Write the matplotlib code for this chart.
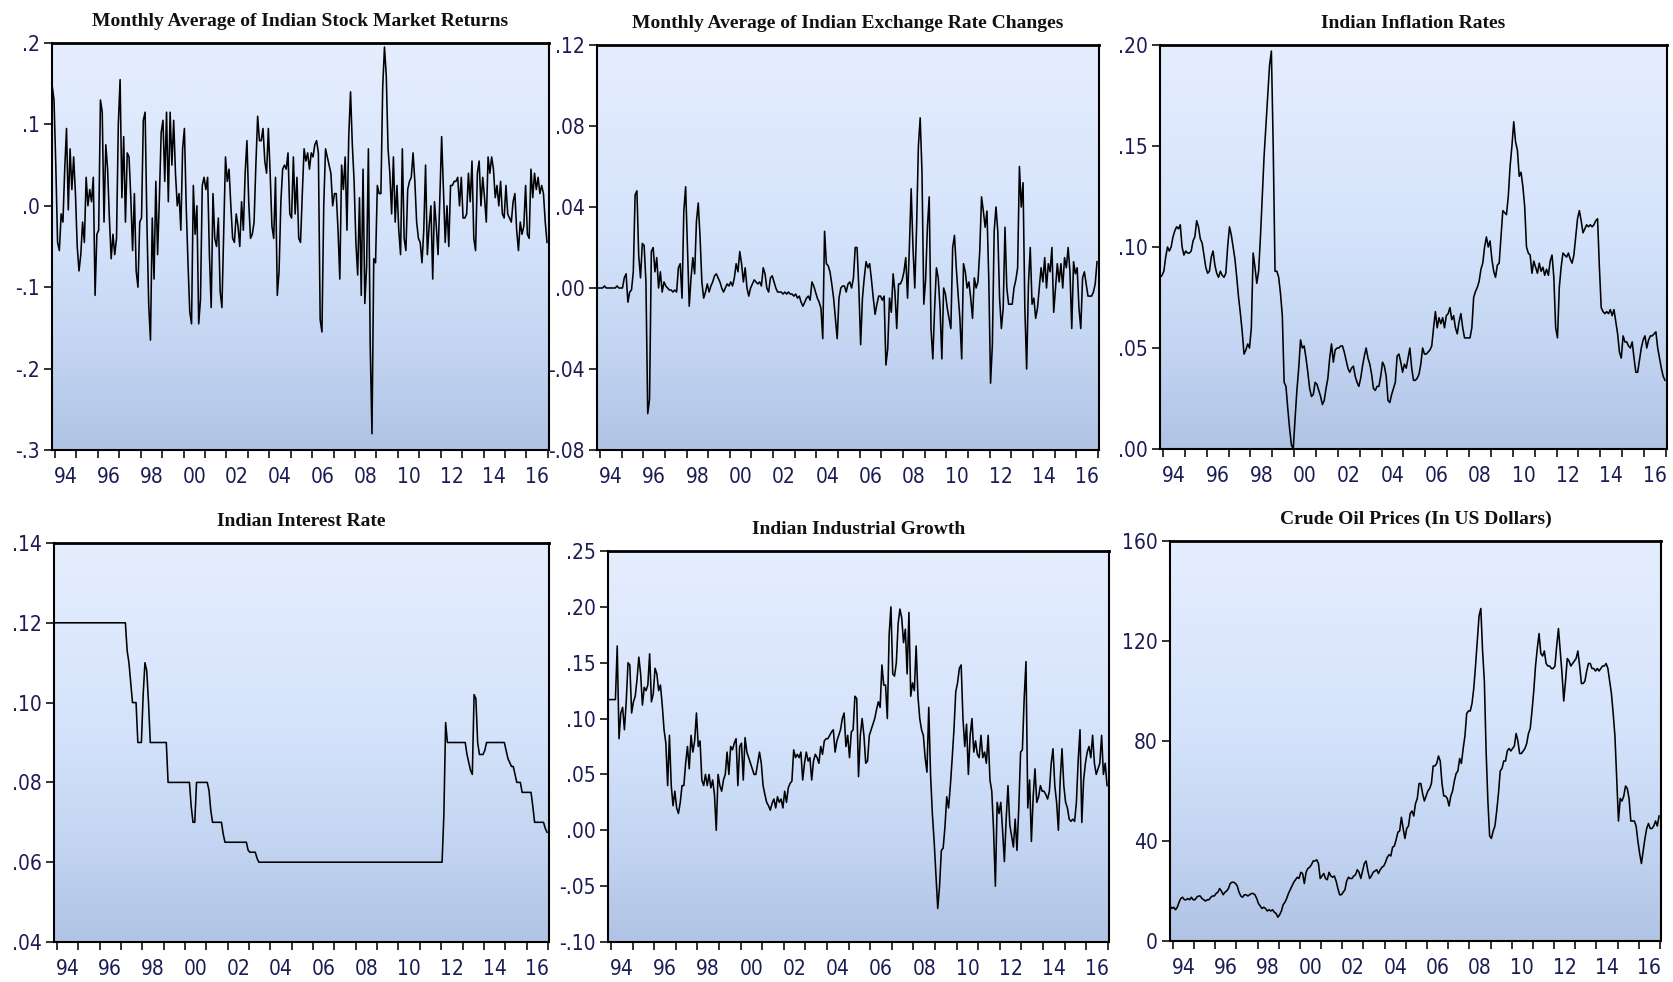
import numpy as np
import matplotlib
matplotlib.use('Agg')
import matplotlib.pyplot as plt
from matplotlib.colors import LinearSegmentedColormap

# ---- data (monthly, Nov 1993 .. Dec 2016) ----
stock_returns = [
    0.147, 0.13,
    0.05, -0.045, -0.055, -0.01, -0.02, 0.045, 0.095, -0.005, 0.07, 0.02, 0.06, 0.015,
    -0.05, -0.08, -0.06, -0.02, -0.045, 0.035, 0.0, 0.02, 0.005, 0.035, -0.11, -0.035,
    -0.03, 0.13, 0.115, -0.02, 0.075, 0.045, -0.015, -0.065, -0.035, -0.06, -0.04, 0.1,
    0.155, 0.01, 0.085, -0.02, 0.065, 0.06, 0.01, -0.055, 0.015, -0.08, -0.1, -0.02,
    -0.015, 0.105, 0.115, -0.02, -0.12, -0.165, -0.015, -0.09, 0.03, -0.06, 0.01, 0.09,
    0.105, 0.03, 0.115, 0.005, 0.115, 0.05, 0.105, 0.04, 0.0, 0.015, -0.03, 0.07,
    0.095, 0.0, -0.07, -0.13, -0.145, 0.025, -0.035, 0.0, -0.145, -0.115, 0.025, 0.035,
    0.02, 0.035, -0.06, -0.125, 0.015, -0.04, -0.05, -0.015, -0.105, -0.125, -0.03, 0.06,
    0.03, 0.045, 0.0, -0.04, -0.045, -0.01, -0.025, -0.05, 0.005, -0.03, 0.04, 0.08,
    0.005, -0.04, -0.035, -0.02, 0.05, 0.11, 0.08, 0.08, 0.095, 0.055, 0.04, 0.095,
    0.04, -0.025, -0.04, 0.035, -0.11, -0.08, 0.005, 0.045, 0.05, 0.045, 0.065, -0.01,
    -0.015, 0.06, -0.01, 0.035, -0.04, -0.045, 0.015, 0.07, 0.055, 0.065, 0.045, 0.065,
    0.06, 0.075, 0.08, 0.065, -0.14, -0.155, 0.0, 0.07, 0.06, 0.05, 0.04, 0.0,
    0.015, 0.015, -0.03, -0.09, 0.05, 0.02, 0.06, -0.03, 0.085, 0.14, 0.075, 0.03,
    -0.045, -0.085, 0.01, -0.11, 0.045, -0.12, -0.075, 0.07, -0.17, -0.28, -0.065, -0.07,
    0.025, 0.015, 0.015, 0.145, 0.195, 0.16, 0.07, 0.04, -0.01, 0.06, -0.02, 0.025,
    -0.03, -0.06, 0.07, -0.04, -0.055, 0.02, 0.03, 0.035, 0.065, 0.03, -0.02, -0.04,
    -0.045, -0.07, -0.03, 0.05, -0.06, -0.025, 0.0, -0.09, 0.005, -0.025, -0.06, 0.01,
    0.085, 0.02, -0.045, 0.0, -0.05, 0.025, 0.025, 0.03, 0.03, 0.035, 0.0, 0.035,
    -0.015, -0.015, -0.01, 0.04, 0.005, 0.055, -0.04, -0.055, 0.04, 0.055, 0.0, 0.035,
    0.01, -0.02, 0.06, 0.04, 0.06, 0.045, 0.01, 0.025, 0.0, 0.03, -0.01, -0.015,
    0.025, -0.01, -0.015, -0.02, 0.005, 0.015, -0.03, -0.055, -0.02, -0.035, -0.025, 0.025,
    -0.035, -0.04, 0.045, 0.01, 0.04, 0.02, 0.035, 0.015, 0.025, 0.015, -0.02, -0.045,
]

exchange_changes = [
    0.0, 0.0,
    0.0, 0.0, 0.001, 0.0, 0.0, 0.0, 0.0, 0.0, 0.0, 0.001, 0.0, 0.0,
    0.0, 0.005, 0.007, -0.007, -0.002, -0.001, 0.008, 0.046, 0.048, 0.016, 0.005, 0.022,
    0.021, 0.003, -0.062, -0.055, 0.018, 0.02, 0.008, 0.015, 0.0, 0.008, -0.002, 0.003,
    0.001, 0.0, -0.001, -0.001, -0.002, -0.001, -0.002, 0.01, 0.012, -0.005, 0.038, 0.05,
    0.02, -0.009, 0.005, 0.015, 0.007, 0.033, 0.042, 0.025, 0.003, -0.005, -0.002, 0.002,
    -0.002, 0.001, 0.003, 0.006, 0.007, 0.005, 0.003, 0.0, -0.002, 0.0, 0.002, 0.001,
    0.003, 0.001, 0.005, 0.012, 0.008, 0.018, 0.012, 0.003, 0.01, 0.0, -0.004, 0.0,
    0.002, 0.004, 0.003, 0.002, 0.003, 0.001, 0.01, 0.007, 0.0, -0.002, 0.005, 0.006,
    0.003, 0.0, -0.002, -0.002, -0.002, -0.003, -0.002, -0.003, -0.002, -0.003, -0.003, -0.004,
    -0.003, -0.005, -0.004, -0.007, -0.009, -0.007, -0.005, -0.004, -0.006, 0.003, 0.001, -0.002,
    -0.005, -0.007, -0.01, -0.025, 0.028, 0.012, 0.011, 0.008, 0.002, -0.005, -0.015, -0.025,
    -0.005, 0.0, 0.001, 0.001, -0.002, 0.002, 0.003, 0.0, 0.005, 0.02, 0.02, 0.0,
    -0.028, -0.005, 0.005, 0.013, 0.01, 0.012, 0.004, -0.005, -0.013, -0.008, -0.004, -0.004,
    -0.006, -0.004, -0.038, -0.03, -0.005, -0.012, 0.007, -0.002, -0.02, 0.002, 0.002, 0.004,
    0.008, 0.015, -0.005, 0.02, 0.049, 0.02, 0.0, 0.03, 0.07, 0.084, 0.057, -0.008,
    0.004, 0.03, 0.045, -0.02, -0.035, -0.01, 0.01, 0.005, -0.01, -0.035, 0.0, -0.003,
    -0.01, -0.015, -0.02, 0.02, 0.026, 0.01, -0.003, -0.015, -0.035, 0.012, 0.008, 0.0,
    0.003, -0.005, -0.015, 0.005, 0.0, 0.003, 0.018, 0.045, 0.038, 0.03, 0.038, 0.005,
    -0.047, -0.028, 0.028, 0.04, 0.028, -0.005, -0.02, -0.01, 0.03, 0.0, -0.008, -0.008,
    -0.008, 0.0, 0.004, 0.01, 0.06, 0.04, 0.052, -0.01, -0.04, 0.002, 0.02, -0.008,
    -0.005, -0.015, -0.01, 0.0, 0.01, 0.003, 0.015, 0.0, 0.012, 0.008, 0.02, -0.012,
    0.0, 0.012, 0.003, 0.012, 0.0, 0.015, 0.01, 0.02, 0.008, -0.02, 0.013, 0.007,
    0.01, -0.01, -0.02, 0.005, 0.008, 0.002, -0.004, -0.004, -0.004, -0.002, 0.002, 0.013,
]

inflation = [
    0.085, 0.086,
    0.088, 0.095, 0.1, 0.098, 0.1, 0.105, 0.108, 0.11, 0.109, 0.111, 0.1, 0.096,
    0.098, 0.097, 0.097, 0.098, 0.103, 0.105, 0.113, 0.11, 0.104, 0.102, 0.096, 0.09,
    0.087, 0.088, 0.095, 0.098, 0.091, 0.087, 0.085, 0.088, 0.086, 0.085, 0.087, 0.1,
    0.11, 0.106, 0.1, 0.094, 0.085, 0.075, 0.067, 0.058, 0.047, 0.049, 0.052, 0.05,
    0.06, 0.097, 0.09, 0.082, 0.088, 0.105, 0.125, 0.145, 0.16, 0.175, 0.19, 0.197,
    0.15, 0.088, 0.088, 0.085, 0.077, 0.066, 0.033, 0.031, 0.02, 0.01, 0.002, 0.0,
    0.015, 0.029, 0.04, 0.054, 0.05, 0.051, 0.045, 0.038, 0.03, 0.026, 0.027, 0.033,
    0.032, 0.029, 0.026, 0.022, 0.024, 0.03, 0.035, 0.045, 0.052, 0.043, 0.049, 0.05,
    0.05, 0.051, 0.051, 0.048, 0.044, 0.04, 0.038, 0.04, 0.041, 0.036, 0.033, 0.031,
    0.035, 0.041, 0.046, 0.05, 0.045, 0.042, 0.037, 0.03, 0.029, 0.031, 0.031, 0.036,
    0.043, 0.041, 0.036, 0.024, 0.023, 0.027, 0.03, 0.033, 0.046, 0.047, 0.043, 0.038,
    0.042, 0.04, 0.045, 0.05, 0.04, 0.034, 0.034, 0.035, 0.037, 0.042, 0.05, 0.047,
    0.047, 0.048, 0.049, 0.051, 0.06, 0.068, 0.06, 0.065, 0.062, 0.065, 0.06, 0.066,
    0.067, 0.07, 0.064, 0.066, 0.06, 0.057, 0.063, 0.067, 0.06, 0.055, 0.055, 0.055,
    0.055, 0.06, 0.075, 0.078, 0.08, 0.083, 0.089, 0.092, 0.1, 0.105, 0.1, 0.103,
    0.094, 0.088, 0.085, 0.091, 0.092, 0.105, 0.118, 0.117, 0.116, 0.125, 0.14, 0.15,
    0.162, 0.152, 0.148, 0.135, 0.137, 0.13, 0.12, 0.1, 0.097, 0.096, 0.087, 0.093,
    0.09, 0.087, 0.092, 0.088, 0.09, 0.086, 0.089, 0.086, 0.093, 0.096, 0.085, 0.06,
    0.055, 0.08, 0.09, 0.097, 0.096, 0.095, 0.097, 0.094, 0.092, 0.096, 0.105, 0.114,
    0.118, 0.113, 0.107, 0.109, 0.111, 0.11, 0.111, 0.11, 0.111, 0.113, 0.114, 0.09,
    0.07, 0.068, 0.067, 0.068, 0.067, 0.069, 0.066, 0.069, 0.063, 0.057, 0.048, 0.045,
    0.056, 0.053, 0.053, 0.051, 0.05, 0.053, 0.045, 0.038, 0.038, 0.044, 0.05, 0.054,
    0.056, 0.05, 0.054, 0.056, 0.056, 0.057, 0.058, 0.05, 0.045, 0.04, 0.036, 0.034,
]

# interest rate is a step series: each level and how many months it held
rate_levels = [0.12, 0.113, 0.11, 0.105, 0.10, 0.09, 0.102, 0.11, 0.108, 0.10,
               0.09, 0.08, 0.074, 0.07, 0.08, 0.078, 0.073, 0.07, 0.067, 0.065,
               0.063, 0.0625, 0.061, 0.06, 0.0717, 0.095, 0.09, 0.087, 0.085, 0.083,
               0.082, 0.102, 0.101, 0.09, 0.087, 0.088, 0.09, 0.088, 0.086, 0.085,
               0.084, 0.082, 0.08, 0.0775, 0.074, 0.07, 0.0685, 0.0675]
rate_months = [41, 1, 1, 1, 3, 3, 1, 1, 1, 1,
               10, 13, 1, 2, 7, 1, 1, 6, 1, 13,
               1, 4, 1, 104, 1, 1, 11, 1, 1, 1,
               1, 1, 1, 1, 3, 1, 11, 1, 1, 1,
               2, 1, 3, 6, 1, 6, 1, 1]
interest_rate = np.repeat(rate_levels, rate_months)

industrial_growth = [
    0.117, 0.117,
    0.117, 0.117, 0.117, 0.165, 0.082, 0.105, 0.11, 0.09, 0.115, 0.15, 0.148, 0.105,
    0.115, 0.12, 0.135, 0.155, 0.14, 0.112, 0.128, 0.125, 0.13, 0.158, 0.115, 0.122,
    0.145, 0.14, 0.125, 0.13, 0.112, 0.09, 0.078, 0.04, 0.085, 0.04, 0.022, 0.035,
    0.02, 0.015, 0.025, 0.04, 0.04, 0.06, 0.075, 0.055, 0.085, 0.07, 0.08, 0.105,
    0.075, 0.08, 0.045, 0.04, 0.05, 0.04, 0.05, 0.038, 0.045, 0.032, 0.0, 0.05,
    0.04, 0.035, 0.045, 0.05, 0.07, 0.05, 0.075, 0.072, 0.078, 0.082, 0.04, 0.075,
    0.078, 0.045, 0.083, 0.07, 0.065, 0.06, 0.055, 0.05, 0.05, 0.06, 0.07, 0.06,
    0.04, 0.032, 0.025, 0.022, 0.018, 0.024, 0.028, 0.02, 0.03, 0.025, 0.028, 0.02,
    0.035, 0.025, 0.038, 0.042, 0.044, 0.072, 0.065, 0.068, 0.065, 0.07, 0.045, 0.06,
    0.07, 0.062, 0.065, 0.045, 0.062, 0.068, 0.065, 0.06, 0.075, 0.068, 0.08, 0.082,
    0.082, 0.085, 0.088, 0.09, 0.07, 0.08, 0.085, 0.09, 0.1, 0.105, 0.075, 0.085,
    0.065, 0.088, 0.09, 0.12, 0.118, 0.048, 0.085, 0.1, 0.085, 0.06, 0.062, 0.085,
    0.09, 0.095, 0.1, 0.108, 0.115, 0.11, 0.148, 0.13, 0.13, 0.1, 0.175, 0.2,
    0.14, 0.138, 0.15, 0.185, 0.198, 0.19, 0.168, 0.18, 0.14, 0.195, 0.12, 0.132,
    0.125, 0.165, 0.12, 0.1, 0.09, 0.085, 0.065, 0.052, 0.11, 0.05, 0.015, -0.01,
    -0.04, -0.07, -0.05, -0.018, -0.016, 0.003, 0.03, 0.02, 0.04, 0.064, 0.09, 0.124,
    0.132, 0.145, 0.148, 0.1, 0.075, 0.095, 0.05, 0.085, 0.1, 0.07, 0.08, 0.068,
    0.065, 0.085, 0.065, 0.07, 0.06, 0.085, 0.045, 0.035, 0.0, -0.05, 0.025, 0.015,
    0.025, 0.0, -0.028, 0.01, 0.04, 0.005, -0.005, -0.015, 0.01, -0.018, 0.02, 0.07,
    0.072, 0.118, 0.151, 0.02, 0.045, -0.01, 0.03, 0.055, 0.025, 0.03, 0.04, 0.035,
    0.035, 0.032, 0.028, 0.035, 0.06, 0.073, 0.04, 0.025, 0.0, 0.045, 0.073, 0.04,
    0.025, 0.02, 0.01, 0.008, 0.01, 0.008, 0.025, 0.063, 0.09, 0.007, 0.045, 0.06,
    0.07, 0.075, 0.065, 0.085, 0.06, 0.05, 0.055, 0.06, 0.085, 0.05, 0.06, 0.04,
]

oil_prices = [
    14, 13,
    13.5, 12.5, 13.5, 15.5, 17, 17.5, 16.5, 16.5, 17, 16.5, 17.5, 16.5,
    16.5, 17.5, 18, 18, 17, 16.5, 16, 16.5, 16.5, 17.5, 18, 18,
    19, 19.5, 21, 20, 18.5, 19.5, 20, 21, 23, 23.5, 23.5, 23,
    22, 19.5, 18, 17.5, 18.5, 18.5, 18, 18.5, 19, 19, 18.5, 17,
    15, 14, 13, 13.5, 13, 12, 12.5, 12, 12.5, 11.5, 11, 9.5,
    10.5, 12, 14.5, 15.5, 17, 19, 20.5, 22, 23.5, 24.5, 25.5, 25,
    27.5, 27, 23, 27.5, 29, 29.5, 30.5, 32, 32, 32.5, 31, 25,
    26, 27, 25, 24.5, 27.5, 26, 25.5, 26, 24, 21, 18.5, 18.5,
    19.5, 20.5, 24, 25.5, 25, 25, 26, 26.5, 28.5, 27.5, 25, 28,
    31, 32, 28, 25, 26, 27.5, 28, 28.5, 27, 28.5, 29.5, 30,
    31.5, 33.5, 34.5, 34, 37.5, 38, 40.5, 43.5, 44, 49.5, 45, 41,
    45, 46, 51, 52, 50, 55, 57, 63, 63, 59, 56, 58,
    60, 61, 63, 70, 70, 71, 74, 72, 63, 58, 58, 57,
    54, 58, 60, 64, 67, 68, 73, 71, 77, 82, 91, 92,
    92, 95, 101, 110, 120, 130, 133, 116, 104, 76, 56, 42,
    41, 44, 46, 52, 59, 68, 69, 72, 72, 76, 77, 76,
    77, 78, 83, 80, 75, 75, 76, 77, 79, 83, 85, 92,
    100, 110, 117, 123, 115, 114, 116, 111, 110, 110, 109, 109,
    110, 118, 125, 116, 107, 96, 104, 113, 112, 110, 111, 112,
    113, 116, 110, 103, 103, 104, 108, 111, 111, 109, 109, 108,
    109, 108, 109, 110, 110, 111, 109, 104, 99, 91, 82, 65,
    48, 57, 56, 58, 62, 61, 57, 48, 48, 48, 46, 40,
    35, 31, 36, 41, 45, 47, 45, 45, 46, 48, 46, 50,
]

titles = [
    "Monthly Average of Indian Stock Market Returns",
    "Monthly Average of Indian Exchange Rate Changes",
    "Indian Inflation Rates",
    "Indian Interest Rate",
    "Indian Industrial Growth",
    "Crude Oil Prices (In US Dollars)",
]
series = [stock_returns, exchange_changes, inflation,
          interest_rate, industrial_growth, oil_prices]
y_ticks = [
    [-0.3, -0.2, -0.1, 0.0, 0.1, 0.2],
    [-0.08, -0.04, 0.0, 0.04, 0.08, 0.12],
    [0.0, 0.05, 0.10, 0.15, 0.20],
    [0.04, 0.06, 0.08, 0.10, 0.12, 0.14],
    [-0.10, -0.05, 0.0, 0.05, 0.10, 0.15, 0.20, 0.25],
    [0, 40, 80, 120, 160],
]
y_decimals = [1, 2, 2, 2, 2, 0]
start_year = 1993 + 10.5 / 12   # first observation: Nov 1993

# ---- layout (pixel boxes: left, top, right, bottom) ----
W, H = 1673, 982
boxes = [(52, 43, 549, 450), (597, 45, 1099, 450), (1160, 45, 1667, 449),
         (54, 543, 549, 942), (608, 551, 1109, 942), (1170, 541, 1661, 941)]

TICK_COLOR = '#1c1c55'
BG = LinearSegmentedColormap.from_list(
    'eviews', ['#B0C3E4', '#C3D5F2', '#D3E2FA', '#DDE8FD', '#E5EEFD'])


def tick_text(v, d):
    """EViews style tick label: no leading zero."""
    s = f"{v:.{d}f}"
    return s.replace('0.', '.', 1) if d > 0 else s


def draw_panel(ax, values, title, ticks, dec):
    """One EViews-like line graph."""
    grad = np.linspace(0, 1, 256).reshape(-1, 1)
    ax.imshow(grad, extent=(0, 1, 0, 1), transform=ax.transAxes,
              cmap=BG, origin='lower', aspect='auto', zorder=0)
    x = start_year + np.arange(len(values)) / 12.0
    ax.plot(x, values, color='black', lw=1.15, zorder=2)

    ax.set_xlim(start_year - 0.01, 2017.05)
    ax.set_ylim(ticks[0], ticks[-1])

    ax.set_yticks(ticks)
    ax.set_yticklabels([tick_text(t, dec) for t in ticks])
    ax.set_xticks(np.arange(1994, 2018))
    ax.set_xticklabels([])
    years = np.arange(1994, 2017, 2)
    ax.set_xticks(years + 0.5, minor=True)
    ax.set_xticklabels([f"{y % 100:02d}" for y in years], minor=True)

    ax.tick_params(axis='both', which='major', direction='out', length=6,
                   width=1.3, color='#222222', labelsize=15,
                   labelcolor=TICK_COLOR, pad=3)
    ax.tick_params(axis='x', which='minor', length=0, labelsize=15,
                   labelcolor=TICK_COLOR, pad=12)
    for lab in ax.get_xticklabels(minor=True) + ax.get_yticklabels():
        lab.set_family('DejaVu Sans')
        lab.set_stretch('condensed')

    for side, sp in ax.spines.items():
        sp.set_color('black')
        sp.set_linewidth(2.0 if side == 'top' else 1.5)

    ax.set_title(title, family='Liberation Serif', fontweight='bold',
                 fontsize=14, pad=12, color='#111111')


fig = plt.figure(figsize=(W / 100, H / 100), dpi=100)
for box, vals, ttl, tks, dec in zip(boxes, series, titles, y_ticks, y_decimals):
    l, t, r, b = box
    ax = fig.add_axes([l / W, 1 - b / H, (r - l) / W, (b - t) / H])
    draw_panel(ax, vals, ttl, tks, dec)

fig.savefig('out.png', dpi=100)
